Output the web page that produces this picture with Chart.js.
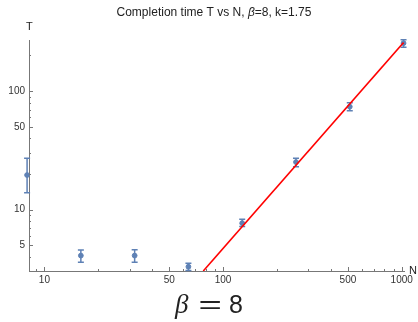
<!DOCTYPE html>
<html>
<head>
<meta charset="utf-8">
<script src="https://cdn.jsdelivr.net/npm/chart.js@4/dist/chart.umd.min.js"></script>
<style>
  body { margin: 0; background: #fff; }
  #wrap { position: relative; width: 418px; height: 322px; }
  #formula {
    position: absolute; left: 0; width: 418px; top: 289px; text-align: center;
    font-family: "Liberation Sans", Arial, sans-serif; font-size: 25px; color: #222;
  }
  #formula i { font-family: "Liberation Serif", serif; font-size: 27px; margin-right: 5px; }
  #formula span { display: inline-block; transform: scaleX(1.6); margin: 0 11px 0 10px; }
</style>
</head>
<body>
<div id="wrap">
  <canvas id="plot" width="418" height="290"></canvas>
  <div id="formula"><i>β</i><span>=</span>8</div>
</div>
<script>
// measured points (N, completion time T and error range)
const sizesN = [8, 16, 32, 64, 128, 256, 512, 1024];
const timeT = [19.6, 4.1, 4.1, 3.3, 7.7, 25.2, 73.9, 254];
const timeLow = [13.9, 3.6, 3.6, 3.07, 7.2, 23.0, 68.4, 235];
const timeHigh = [27.1, 4.57, 4.6, 3.54, 8.3, 27.1, 80, 271];

// fitted power law, end points of the red line
const fitN = [77.5, 1024];
const fitT = [3.04, 257];

const xTickLabels = [10, 50, 100, 500, 1000];
const yTickLabels = [5, 10, 50, 100];

const blue = '#5E81B5';
const axisColor = '#777';

function logTicks(min, max) {
    const out = [];
    for (let p = 0; p <= 3; p++) {
        for (let m = 1; m <= 9; m++) {
            const v = m * Math.pow(10, p);
            if (v >= min && v <= max) out.push(v);
        }
    }
    return out;
}

const pointsData = sizesN.map((n, i) => ({ x: n, y: timeT[i] }));
const fitData = fitN.map((n, i) => ({ x: n, y: fitT[i] }));

// error bars, tick marks inside axes, axis names and title
const extras = {
    id: 'extras',
    beforeDatasetsDraw(chart) {
        const c = chart.ctx, xs = chart.scales.x, ys = chart.scales.y;
        c.save();
        c.strokeStyle = blue;
        c.lineWidth = 1.5;
        sizesN.forEach((n, i) => {
            const px = xs.getPixelForValue(n);
            const top = ys.getPixelForValue(timeHigh[i]);
            const bot = ys.getPixelForValue(timeLow[i]);
            c.beginPath();
            c.moveTo(px, top); c.lineTo(px, bot);
            c.moveTo(px - 3, top); c.lineTo(px + 3, top);
            c.moveTo(px - 3, bot); c.lineTo(px + 3, bot);
            c.stroke();
        });
        c.restore();
    },
    afterDraw(chart) {
        const c = chart.ctx, xs = chart.scales.x, ys = chart.scales.y;
        const area = chart.chartArea;
        c.save();
        c.strokeStyle = axisColor;
        c.lineWidth = 1;
        xs.ticks.forEach(t => {
            const px = Math.round(xs.getPixelForValue(t.value)) + 0.5;
            const len = xTickLabels.includes(t.value) ? 4 : 2;
            c.beginPath();
            c.moveTo(px, area.bottom); c.lineTo(px, area.bottom - len);
            c.stroke();
        });
        ys.ticks.forEach(t => {
            const py = Math.round(ys.getPixelForValue(t.value)) + 0.5;
            const len = yTickLabels.includes(t.value) ? 4 : 2;
            c.beginPath();
            c.moveTo(area.left, py); c.lineTo(area.left + len, py);
            c.stroke();
        });

        c.fillStyle = '#222';
        c.font = '11px "Liberation Sans", Arial, sans-serif';
        c.textBaseline = 'middle';
        c.textAlign = 'left';
        c.fillText('T', area.left - 3, 27);
        c.fillText('N', area.right + 5, area.bottom);

        // title with italic beta
        const f = '12px "Liberation Sans", Arial, sans-serif';
        const parts = [
            ['Completion time T vs N, ', f],
            ['β', 'italic ' + f],
            ['=8, k=1.75', f]
        ];
        let w = 0;
        parts.forEach(p => { c.font = p[1]; w += c.measureText(p[0]).width; });
        let x = 214 - w / 2;
        parts.forEach(p => {
            c.font = p[1];
            c.fillText(p[0], x, 13);
            x += c.measureText(p[0]).width;
        });
        c.restore();
    }
};

const ctx = document.getElementById('plot').getContext('2d');
const chart = new Chart(ctx, {
    type: 'scatter',
    data: {
        datasets: [
            {
                label: 'fit',
                type: 'line',
                data: fitData,
                borderColor: '#ff0000',
                borderWidth: 1.6,
                pointRadius: 0,
                fill: false,
                order: 0
            },
            {
                label: 'T',
                data: pointsData,
                backgroundColor: blue,
                borderColor: blue,
                pointRadius: 2.4,
                clip: false,
                order: 1
            }
        ]
    },
    options: {
        responsive: false,
        devicePixelRatio: 1,
        animation: false,
        layout: { padding: { top: 40, right: 14, left: 0, bottom: 0 } },
        plugins: { legend: { display: false }, tooltip: { enabled: false } },
        scales: {
            x: {
                type: 'logarithmic',
                min: 8.2,
                max: 1030,
                afterBuildTicks: s => { s.ticks = logTicks(s.min, s.max).map(v => ({ value: v })); },
                afterFit: s => { s.height = 19; },
                grid: { display: false, drawTicks: false },
                border: { display: true, color: axisColor, width: 1 },
                ticks: {
                    autoSkip: false,
                    maxRotation: 0,
                    padding: 3,
                    color: '#333',
                    font: { family: '"Liberation Sans", Arial, sans-serif', size: 10 },
                    callback: v => xTickLabels.includes(v) ? String(v) : ''
                }
            },
            y: {
                type: 'logarithmic',
                min: 3.04,
                max: 270,
                afterBuildTicks: s => { s.ticks = logTicks(s.min, s.max).map(v => ({ value: v })); },
                afterFit: s => { s.width = 29; },
                grid: { display: false, drawTicks: false },
                border: { display: true, color: axisColor, width: 1 },
                ticks: {
                    autoSkip: false,
                    padding: 4,
                    color: '#333',
                    font: { family: '"Liberation Sans", Arial, sans-serif', size: 10 },
                    callback: v => yTickLabels.includes(v) ? String(v) : ''
                }
            }
        }
    },
    plugins: [extras]
});
</script>
</body>
</html>
